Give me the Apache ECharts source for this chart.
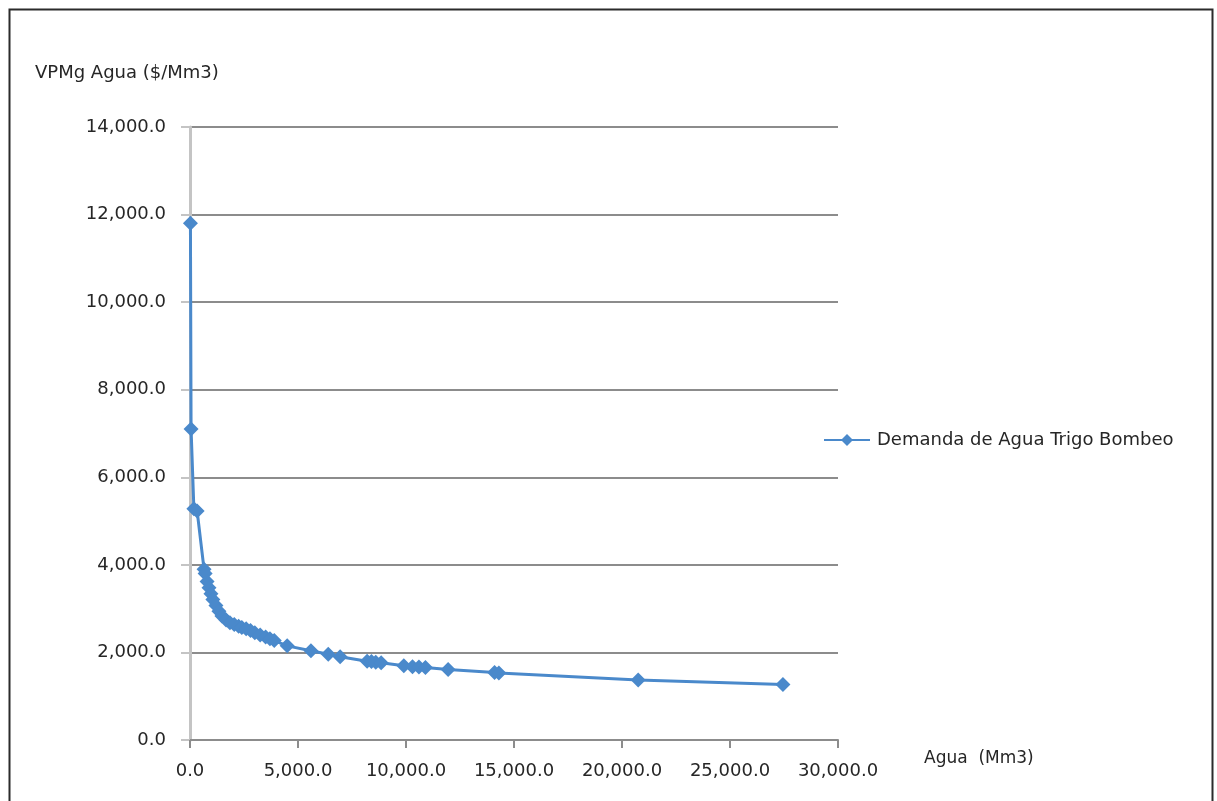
<!DOCTYPE html>
<html>
<head>
<meta charset="utf-8">
<script src="https://cdn.jsdelivr.net/npm/echarts@6/dist/echarts.min.js"></script>
<style>
html,body{margin:0;padding:0;background:#fff;}
#chart{width:1217px;height:801px;}
</style>
</head>
<body>
<div id="chart"></div>
<script>
// Data
const seriesName = 'Demanda de Agua Trigo Bombeo';
const xAxisTitle = 'Agua  (Mm3)';
const yAxisTitle = 'VPMg Agua ($/Mm3)';
const waterMm3 = [20, 50, 180, 330, 650, 700, 790, 880, 970, 1060, 1200, 1340, 1480, 1670, 1850, 2050,
  2250, 2400, 2600, 2800, 3000, 3250, 3500, 3700, 3900, 4500, 5600, 6400, 6950, 8200, 8400, 8600, 8850,
  9900, 10300, 10600, 10900, 11950, 14100, 14300, 20750, 27450];
const vpmg = [11800, 7100, 5280, 5230, 3900, 3800, 3620, 3480, 3340, 3210, 3070, 2940, 2830, 2740, 2680, 2640,
  2600, 2570, 2540, 2500, 2450, 2400, 2350, 2310, 2270, 2150, 2040, 1960, 1900, 1800, 1790, 1775, 1765,
  1695, 1675, 1665, 1655, 1610, 1540, 1530, 1370, 1270];

const points = waterMm3.map((x, i) => [x, vpmg[i]]);
const FONT = 'DejaVu Sans';
const TXT = '#262626';
const fmt = v => v.toLocaleString('en-US', {minimumFractionDigits: 1, maximumFractionDigits: 1});

const chart = echarts.init(document.getElementById('chart'));
chart.setOption({
  animation: false,
  backgroundColor: '#ffffff',
  textStyle: {fontFamily: FONT},
  grid: {left: 190, right: 379, top: 127, bottom: 61, containLabel: false},
  graphic: [
    {type: 'rect', left: 7, top: 7, shape: {x: 0, y: 0, width: 1203, height: 810},
     style: {fill: 'none', stroke: '#2b2b2b', lineWidth: 2}, silent: true},
    {type: 'text', left: 35, top: 64,
     style: {text: yAxisTitle, fontFamily: FONT, fontSize: 18, fill: TXT}},
    {type: 'text', left: 924, top: 750,
     style: {text: xAxisTitle, fontFamily: FONT, fontSize: 17, fill: TXT}}
  ],
  legend: {
    left: 818, top: 426, orient: 'vertical',
    itemWidth: 46, itemHeight: 15,
    textStyle: {fontFamily: FONT, fontSize: 18, color: TXT, padding: [0, 0, 0, 2]},
    data: [seriesName]
  },
  xAxis: {
    type: 'value', min: 0, max: 30000, interval: 5000,
    axisLine: {show: true, onZero: false, lineStyle: {color: '#8c8c8c', width: 2}},
    axisTick: {show: true, inside: false, length: 8, lineStyle: {color: '#8c8c8c', width: 2}},
    axisLabel: {margin: 22, fontFamily: FONT, fontSize: 18, color: TXT, formatter: fmt},
    splitLine: {show: false}
  },
  yAxis: {
    type: 'value', min: 0, max: 14000, interval: 2000,
    axisLine: {show: true, lineStyle: {color: '#c4c4c4', width: 3}},
    axisTick: {show: true, inside: false, length: 9, lineStyle: {color: '#c4c4c4', width: 2}},
    axisLabel: {margin: 24, fontFamily: FONT, fontSize: 18, color: TXT, formatter: fmt},
    splitLine: {show: true, lineStyle: {color: '#8c8c8c', width: 2}}
  },
  series: [{
    name: seriesName,
    type: 'line',
    data: points,
    symbol: 'diamond',
    symbolSize: 15,
    lineStyle: {color: '#4a89cb', width: 3},
    itemStyle: {color: '#4a89cb'},
    z: 5
  }]
});
</script>
</body>
</html>
